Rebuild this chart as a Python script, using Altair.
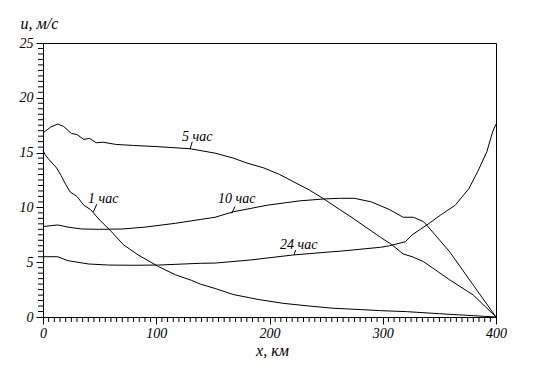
import altair as alt
import pandas as pd

# ---- data ----
x_1h = [0, 2, 5, 12, 16, 20, 24, 30, 36, 42, 50, 59, 71, 84, 102, 117, 131, 139, 152, 168, 190, 212, 235, 256, 280, 298, 321, 350, 380, 400]
y_1h = [15.2, 14.8, 14.4, 13.6, 12.9, 12.1, 11.4, 11.0, 10.2, 9.8, 8.85, 7.94, 6.6, 5.66, 4.6, 3.85, 3.35, 3.0, 2.6, 2.05, 1.6, 1.25, 1.0, 0.8, 0.68, 0.58, 0.49, 0.3, 0.12, 0.0]

x_5h = [0, 2, 7, 13, 18, 25, 30, 36, 41, 47, 53, 64, 80, 100, 130, 152, 168, 180, 195, 209, 221, 235, 248, 262, 271, 285, 298, 308, 318, 326, 336, 359, 380, 400]
y_5h = [16.8, 16.95, 17.35, 17.6, 17.4, 16.75, 16.65, 16.2, 16.3, 15.9, 15.95, 15.75, 15.65, 15.55, 15.35, 14.95, 14.5, 14.05, 13.6, 13.0, 12.35, 11.6, 10.77, 9.8, 9.2, 8.2, 7.27, 6.6, 5.75, 5.5, 5.05, 3.4, 2.0, 0.0]

x_10h = [0, 13, 22, 34, 50, 70, 90, 117, 139, 152, 168, 198, 227, 248, 262, 275, 290, 306, 318, 327, 336, 340, 359, 380, 400]
y_10h = [8.25, 8.4, 8.2, 8.03, 8.0, 8.03, 8.2, 8.55, 8.9, 9.1, 9.6, 10.2, 10.6, 10.77, 10.83, 10.83, 10.5, 9.8, 9.1, 9.1, 8.7, 8.24, 5.96, 2.9, 0.0]

x_24h = [0, 13, 22, 40, 58, 80, 102, 139, 152, 183, 221, 256, 262, 298, 306, 320, 326, 339, 351, 364, 376, 384, 392, 397, 400]
y_24h = [5.5, 5.5, 5.14, 4.84, 4.74, 4.72, 4.74, 4.9, 4.92, 5.2, 5.66, 5.96, 6.0, 6.36, 6.5, 6.87, 7.5, 8.4, 9.3, 10.2, 11.7, 13.3, 15.1, 16.9, 17.6]

series_names = ["1 час", "5 час", "10 час", "24 час"]

# curve labels (anchor in data units) and leader strokes
label_text = ["1 час", "5 час", "10 час", "24 час"]
label_x = [39.7, 122.7, 154.5, 209.3]
label_y = [10.4, 16.06, 10.4, 6.2]
leader_x = [44.5, 129.8, 166.6, 221.6]
leader_y = [9.6, 15.3, 9.46, 5.66]
leader_x2 = [47.5, 131.8, 169.5, 223.1]
leader_y2 = [10.3, 16.0, 10.06, 6.11]

x_major = [0, 100, 200, 300, 400]
y_major = [0, 5, 10, 15, 20, 25]
x_minor = [v for v in range(0, 401, 5) if v % 100 != 0]
y_minor = [v / 2 for v in range(0, 51) if v % 10 != 0]

rows = []
for name, xs, ys in zip(series_names, [x_1h, x_5h, x_10h, x_24h], [y_1h, y_5h, y_10h, y_24h]):
    for a, b in zip(xs, ys):
        rows.append({"series": name, "x": a, "y": b})
df = pd.DataFrame(rows)

labels_df = pd.DataFrame({"t": label_text, "lx": label_x, "ly": label_y})
leaders_df = pd.DataFrame({"x": leader_x, "y": leader_y, "x2": leader_x2, "y2": leader_y2})
xminor_df = pd.DataFrame({"v": x_minor})
yminor_df = pd.DataFrame({"v": y_minor})

W, H = 453, 274
FONT = "Liberation Serif"
xscale = alt.Scale(domain=[0, 400], nice=False, zero=False)
yscale = alt.Scale(domain=[0, 25], nice=False, zero=False)

x_axis = alt.Axis(
    values=x_major, tickSize=7, tickWidth=1, labelPadding=2, grid=False, orient="bottom",
    labelFont=FONT, labelFontStyle="italic", labelFontSize=14, labelColor="black",
    tickColor="black", domainColor="black", labelFlush=False,
    title="x,  км", titleFont=FONT, titleFontStyle="italic", titleFontWeight="normal",
    titleFontSize=16, titleColor="black", titleX=229, titleY=38,
    titleAlign="center", titleBaseline="alphabetic",
)
y_axis = alt.Axis(
    values=y_major, tickSize=7, tickWidth=1, labelPadding=3, grid=False, orient="left",
    labelFont=FONT, labelFontStyle="italic", labelFontSize=14, labelColor="black",
    tickColor="black", domainColor="black", labelFlush=False,
    title="u,  м/с", titleFont=FONT, titleFontStyle="italic", titleFontWeight="normal",
    titleFontSize=16, titleColor="black", titleAngle=0, titleX=-23, titleY=-15,
    titleAlign="left", titleBaseline="alphabetic",
)

lines = alt.Chart(df).mark_line(color="black", strokeWidth=1).encode(
    x=alt.X("x:Q", scale=xscale, axis=x_axis),
    y=alt.Y("y:Q", scale=yscale, axis=y_axis),
    detail="series:N",
)

texts = alt.Chart(labels_df).mark_text(
    font=FONT, fontStyle="italic", fontSize=14, color="black",
    align="left", baseline="alphabetic",
).encode(
    x=alt.X("lx:Q", scale=xscale),
    y=alt.Y("ly:Q", scale=yscale),
    text="t:N",
)

leaders = alt.Chart(leaders_df).mark_rule(color="black", strokeWidth=1).encode(
    x=alt.X("x:Q", scale=xscale),
    y=alt.Y("y:Q", scale=yscale),
    x2="x2:Q",
    y2="y2:Q",
)

# minor ticks (outside the frame, like the axis ticks)
xminor = alt.Chart(xminor_df).mark_rule(color="black", strokeWidth=1).encode(
    x=alt.X("v:Q", scale=xscale),
    y=alt.value(H),
    y2=alt.value(H + 5),
)
yminor = alt.Chart(yminor_df).mark_rule(color="black", strokeWidth=1).encode(
    y=alt.Y("v:Q", scale=yscale),
    x=alt.value(-5),
    x2=alt.value(0),
)

chart = alt.layer(lines, texts, leaders, xminor, yminor).properties(
    width=W, height=H,
    autosize=alt.AutoSizeParams(type="none"),
    padding={"left": 35, "top": 35, "right": 30, "bottom": 50},
    background="white",
).configure_view(stroke="black", strokeWidth=1)

chart.save("out.html", embed_options={"renderer": "svg", "actions": False})
